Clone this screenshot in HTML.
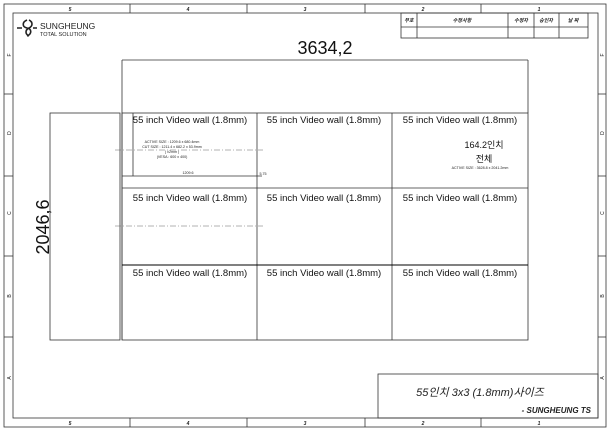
<!DOCTYPE html>
<html><head><meta charset="utf-8"><style>
html,body{margin:0;padding:0;background:#fff;}
svg{display:block;font-family:"Liberation Sans","Noto Sans CJK KR",sans-serif;}
</style></head><body>
<svg width="610" height="431" viewBox="0 0 610 431" xmlns="http://www.w3.org/2000/svg">
<g fill="none" stroke="#333" stroke-width="0.8">
<rect x="4" y="4" width="602" height="423"/>
<rect x="13" y="13" width="585" height="405"/>
<line x1="130" y1="4" x2="130" y2="13"/><line x1="247" y1="4" x2="247" y2="13"/><line x1="365" y1="4" x2="365" y2="13"/><line x1="481" y1="4" x2="481" y2="13"/>
<line x1="130" y1="418" x2="130" y2="427"/><line x1="247" y1="418" x2="247" y2="427"/><line x1="365" y1="418" x2="365" y2="427"/><line x1="481" y1="418" x2="481" y2="427"/>
<line x1="4" y1="94" x2="13" y2="94"/><line x1="4" y1="176" x2="13" y2="176"/><line x1="4" y1="256" x2="13" y2="256"/><line x1="4" y1="337" x2="13" y2="337"/>
<line x1="598" y1="94" x2="606" y2="94"/><line x1="598" y1="176" x2="606" y2="176"/><line x1="598" y1="256" x2="606" y2="256"/><line x1="598" y1="337" x2="606" y2="337"/>
<rect x="401" y="13" width="187" height="25"/>
<line x1="401" y1="27" x2="588" y2="27"/>
<line x1="417" y1="13" x2="417" y2="38"/><line x1="508" y1="13" x2="508" y2="38"/><line x1="534" y1="13" x2="534" y2="38"/><line x1="559" y1="13" x2="559" y2="38"/>
<rect x="378" y="374" width="220" height="44"/>
<line x1="122" y1="60" x2="528" y2="60"/>
<line x1="122" y1="60" x2="122" y2="340"/>
<line x1="528" y1="60" x2="528" y2="113"/>
<rect x="50" y="113" width="70" height="227"/>
<rect x="122" y="113" width="406" height="227"/>
<line x1="257" y1="113" x2="257" y2="340"/><line x1="392" y1="113" x2="392" y2="340"/>
<line x1="122" y1="188" x2="528" y2="188"/>
<line x1="122" y1="265" x2="528" y2="265" stroke="#000" stroke-width="1.1"/>
<line x1="122" y1="176" x2="262" y2="176"/>
<line x1="133" y1="113" x2="133" y2="176"/>
<line x1="115" y1="150" x2="263" y2="150" stroke-dasharray="6 2 1 2" stroke-width="0.5" stroke="#666"/>
<line x1="115" y1="226" x2="263" y2="226" stroke-dasharray="6 2 1 2" stroke-width="0.5" stroke="#666"/>
</g>
<g font-size="5" font-style="italic" font-weight="bold" text-anchor="middle" fill="#222">
<text x="70" y="11">5</text><text x="188" y="11">4</text><text x="305" y="11">3</text><text x="423" y="11">2</text><text x="539" y="11">1</text>
<text x="70" y="425">5</text><text x="188" y="425">4</text><text x="305" y="425">3</text><text x="423" y="425">2</text><text x="539" y="425">1</text>
<text x="409" y="22">부호</text><text x="462" y="22">수정사항</text><text x="521" y="22">수정자</text><text x="546" y="22">승인자</text><text x="573" y="22">날 짜</text>
</g>
<g font-size="5" fill="#222" text-anchor="middle">
<text x="9" y="57" transform="rotate(-90 9 55)">F</text><text x="9" y="135" transform="rotate(-90 9 133)">D</text><text x="9" y="215" transform="rotate(-90 9 213)">C</text><text x="9" y="298" transform="rotate(-90 9 296)">B</text><text x="9" y="380" transform="rotate(-90 9 378)">A</text>
<text x="602" y="57" transform="rotate(-90 602 55)">F</text><text x="602" y="135" transform="rotate(-90 602 133)">D</text><text x="602" y="215" transform="rotate(-90 602 213)">C</text><text x="602" y="298" transform="rotate(-90 602 296)">B</text><text x="602" y="380" transform="rotate(-90 602 378)">A</text>
</g>
<g stroke="#222" stroke-width="1.6" fill="none"><path d="M22 28 l-5 0 M27 20 c-5 2 -5 7 0 8 c5 1 5 6 0 8 M29 20 c4 2 4 6 0 8 M29 28 c-4 2 -4 6 0 8 M33 28 l4 0"/></g>
<text x="40" y="29" font-size="8.5" fill="#222">SUNGHEUNG</text>
<text x="40" y="36" font-size="5.5" fill="#222">TOTAL SOLUTION</text>
<text x="325" y="54" font-size="18" text-anchor="middle" fill="#111">3634,2</text>
<text x="42" y="234" font-size="18" text-anchor="middle" fill="#111" transform="rotate(-90 42 227)">2046,6</text>
<g font-size="9.5" fill="#111" text-anchor="middle">
<text x="190" y="123">55 inch Video wall (1.8mm)</text><text x="324" y="123">55 inch Video wall (1.8mm)</text><text x="460" y="123">55 inch Video wall (1.8mm)</text>
<text x="190" y="201">55 inch Video wall (1.8mm)</text><text x="324" y="201">55 inch Video wall (1.8mm)</text><text x="460" y="201">55 inch Video wall (1.8mm)</text>
<text x="190" y="276">55 inch Video wall (1.8mm)</text><text x="324" y="276">55 inch Video wall (1.8mm)</text><text x="460" y="276">55 inch Video wall (1.8mm)</text>
<text x="484" y="148" font-size="9">164.2인치</text>
<text x="484" y="162" font-size="9">전체</text>
</g>
<g font-size="3.6" fill="#222" text-anchor="middle">
<text x="172" y="143">ACTIVE SIZE : 1209.6 x 680.4mm</text>
<text x="172" y="148">CUT SIZE : 1211.4 x 682.2 x 53.9mm</text>
<text x="172" y="153">( ±2mm )</text>
<text x="172" y="158">(VESA : 600 x 400)</text>
<text x="188" y="174">1209.6</text>
<text x="263" y="175">5.75</text>
<text x="480" y="169">ACTIVE SIZE : 3628.8 x 2041.2mm</text>
</g>
<text x="480" y="396" font-size="11" font-style="italic" text-anchor="middle" fill="#222">55인치 3x3 (1.8mm)사이즈</text>
<text x="591" y="413" font-size="8" font-style="italic" font-weight="bold" text-anchor="end" fill="#222">- SUNGHEUNG TS</text>
</svg>
</body></html>
